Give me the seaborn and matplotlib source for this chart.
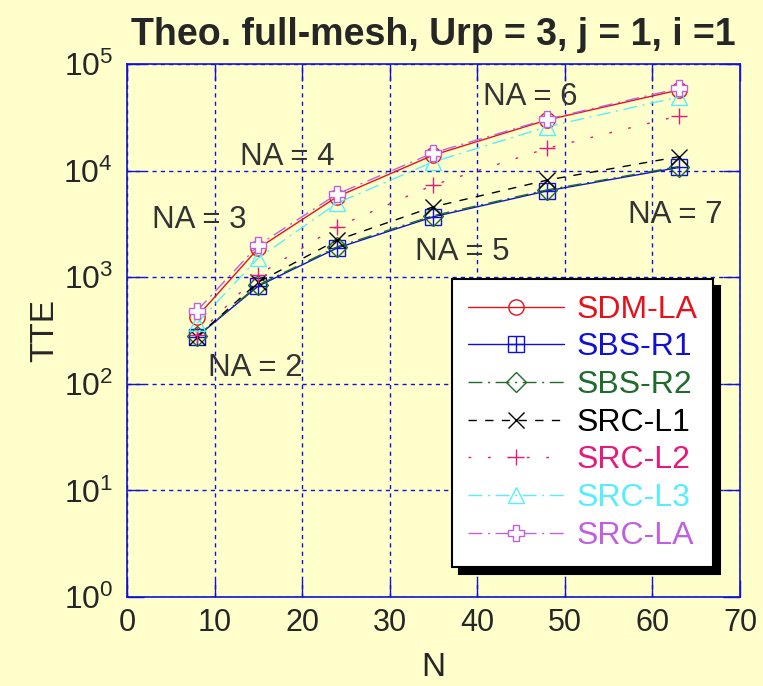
import matplotlib
matplotlib.use("Agg")
import matplotlib.pyplot as plt
from matplotlib import font_manager
from matplotlib.legend_handler import HandlerTuple
import seaborn as sns
import pandas as pd

## Data
N = [8, 15, 24, 35, 48, 63]
sdm_la = [425, 1870, 5690, 14000, 29900, 57000]
sbs_r1 = [277, 827, 1880, 3690, 6460, 10700]
sbs_r2 = [280, 845, 1930, 3780, 6600, 10900]
src_l1 = [277, 900, 2230, 4580, 8150, 13500]
src_l2 = [287, 1050, 2980, 7330, 16200, 32600]
src_l3 = [370, 1510, 4960, 12100, 25800, 49000]
src_la = [485, 2000, 6030, 14700, 30400, 59000]

series_names = ["SDM-LA", "SBS-R1", "SBS-R2", "SRC-L1", "SRC-L2", "SRC-L3", "SRC-LA"]
series_values = [sdm_la, sbs_r1, sbs_r2, src_l1, src_l2, src_l3, src_la]

na_labels = ["NA = 2", "NA = 3", "NA = 4", "NA = 5", "NA = 6", "NA = 7"]
na_x = [14.6, 8.3, 18.3, 38.3, 46.0, 62.6]
na_y = [141, 3440, 13400, 1730, 49000, 3820]

x_ticks = [0, 10, 20, 30, 40, 50, 60, 70]
y_ticks = [1, 10, 100, 1000, 10000, 100000]

## styles
colors = ["#e4131b", "#1010d8", "#1e6b2c", "#000000", "#e8187c", "#55eeff", "#c060e0"]
line_styles = ["-", "-", (0, (10, 4, 1.5, 4)), (0, (6, 6)), (0, (2, 12)),
               (0, (10, 4, 1.5, 4)), (0, (10, 4, 1.5, 4))]
markers = ["o", "s", "D", "x", "+", "^", "P"]
msizes = [11, 12, 10, 12, 12, 11, 12]

available = {f.name for f in font_manager.fontManager.ttflist}
narrow = "Liberation Sans Narrow" if "Liberation Sans Narrow" in available else "Liberation Sans"

bg = "#ffffcc"
sns.set_style("ticks")
plt.rcParams["font.family"] = ["Liberation Sans", "DejaVu Sans"]
plt.rcParams["mathtext.fontset"] = "custom"
plt.rcParams["mathtext.rm"] = narrow
plt.rcParams["mathtext.it"] = narrow

df = pd.DataFrame({"N": N})

fig = plt.figure(figsize=(7.63, 6.86), dpi=100, facecolor=bg)
ax = fig.add_axes([0.1664, 0.1297, 0.8034, 0.7770])
ax.set_facecolor(bg)

handles = []
for name, vals, c, ls, m, ms in zip(series_names, series_values, colors, line_styles, markers, msizes):
    df[name] = vals
    n_before = len(ax.lines)
    sns.lineplot(data=df, x="N", y=name, ax=ax, color=c, linestyle=ls, lw=1.0,
                 marker=m, markersize=ms, markerfacecolor="none",
                 markeredgecolor=c, markeredgewidth=1.0)
    line = ax.lines[n_before]
    if m == "P":
        line.set_markerfacecolor("white")
    if name == "SBS-R1":
        extra, = ax.plot(df["N"], df[name], linestyle="none", marker="+",
                         markersize=ms, color=c, markeredgewidth=1.0)
        handles.append((line, extra))
    else:
        handles.append(line)

ax.set_yscale("log")
ax.set_xlim(0, 70)
ax.set_ylim(1, 1e5)
ax.set_xticks(x_ticks)
ax.set_yticks(y_ticks)
ax.minorticks_off()

ax.grid(True, color="#1010d8", linestyle=(0, (3, 3)), lw=1.0)
for sp in ax.spines.values():
    sp.set_color("#1010d8")
    sp.set_linewidth(1.2)
ax.tick_params(direction="in", length=12, width=1.0, color="#1010d8",
               top=True, right=True, pad=8)
ax.tick_params(axis="x", labelsize=22)
ax.tick_params(axis="y", labelsize=23, pad=10)

for txt, x, y in zip(na_labels, na_x, na_y):
    ax.text(x, y, txt, fontsize=22.5, color="#333333", ha="center", va="center")

ax.set_xlabel("N", fontsize=24, labelpad=10)
ax.set_ylabel("TTE", fontsize=24, labelpad=2)
ax.set_title("Theo. full-mesh, Urp = 3, j = 1, i =1", fontsize=27,
             fontweight="bold", family=narrow, pad=14)

leg = ax.legend(handles, series_names, loc="upper left", bbox_to_anchor=(0.530, 0.597),
                borderaxespad=0, fontsize=23, handlelength=3.0, handletextpad=0.4,
                labelspacing=0.24, fancybox=False, frameon=True,
                shadow={"color": "black", "alpha": 1.0, "ox": 5, "oy": -5},
                handler_map={tuple: HandlerTuple(ndivide=1)}, borderpad=0.5)
leg.get_frame().set_edgecolor("black")
leg.get_frame().set_linewidth(1.5)
leg.get_frame().set_facecolor("white")
leg.get_frame().set_alpha(1.0)
for t, c in zip(leg.get_texts(), colors):
    t.set_color(c)

fig.savefig("out.png", dpi=100, facecolor=bg)
